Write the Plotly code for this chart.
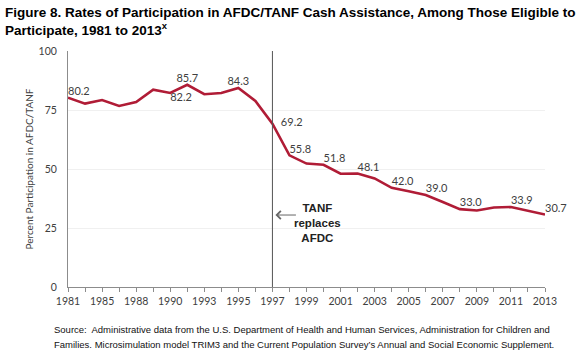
import plotly.graph_objects as go

years = ["1981", "1983", "1985", "1987", "1988", "1989", "1990", "1992", "1993",
         "1994", "1995", "1996", "1997", "1998", "1999", "2000", "2001", "2002",
         "2003", "2004", "2005", "2006", "2007", "2008", "2009", "2010", "2011",
         "2012", "2013"]
rates = [80.2, 77.7, 79.2, 76.7, 78.4, 83.6, 82.2, 85.7, 81.7,
         82.2, 84.3, 78.8, 69.2, 55.8, 52.3, 51.8, 48.0, 48.1,
         46.0, 42.0, 40.6, 39.0, 36.0, 33.0, 32.4, 33.7, 33.9,
         32.3, 30.7]
labeled_years = ["1981", "1990", "1992", "1995", "1997", "1998", "2000", "2002",
                 "2004", "2006", "2008", "2011", "2013"]
y_ticks = [0, 25, 50, 75, 100]
reform_year = "1997"

label_pos = {"1990": "bottom right", "1992": "top center", "1995": "top center",
             "1997": "middle right"}
label_pad = {"1997": "\u00a0\u00a0\u00a0"}

text = [label_pad.get(y, "") + f"{v:.1f}" if y in labeled_years else ""
        for y, v in zip(years, rates)]
tpos = [label_pos.get(y, "top right") for y in years]
tick_text = [y if i % 2 == 0 else "" for i, y in enumerate(years)]
reform_idx = years.index(reform_year)

RED = "#b01c36"
GREY_TXT = "#404040"
AX = "#8c8c8c"

fig = go.Figure()
fig.add_trace(go.Scatter(
    x=years, y=rates, mode="lines+text", text=text, textposition=tpos,
    textfont=dict(family="Lato", size=11, color=GREY_TXT),
    line=dict(color=RED, width=2.6), cliponaxis=False, hoverinfo="skip",
))

fig.add_shape(type="line", xref="x", yref="y", x0=reform_idx, x1=reform_idx, y0=0, y1=100,
              line=dict(color="#555555", width=1))

fig.add_annotation(xref="x", yref="y", x=reform_idx, y=30.5, xshift=3, ax=22, ay=0,
                   text="", showarrow=True, arrowhead=4, arrowsize=1.6,
                   arrowwidth=1, arrowcolor="#666666")
fig.add_annotation(xref="x", yref="y", x=reform_idx, y=27, xshift=45, showarrow=False,
                   text="<b>TANF<br>replaces<br>AFDC</b>", align="center",
                   font=dict(family="Liberation Sans", size=11.5, color="#222222"))

fig.add_annotation(xref="paper", yref="paper", x=-0.1363, y=1.163, xanchor="left",
                   yanchor="middle", showarrow=False, align="left",
                   text="<b>Figure 8. Rates of Participation in AFDC/TANF Cash Assistance, Among Those Eligible to</b>",
                   font=dict(family="Liberation Sans", size=13.5, color="black"))
fig.add_annotation(xref="paper", yref="paper", x=-0.1363, y=1.095, xanchor="left",
                   yanchor="middle", showarrow=False, align="left",
                   text="<b>Participate, 1981 to 2013<sup>x</sup></b>",
                   font=dict(family="Liberation Sans", size=13.5, color="black"))

fig.add_annotation(xref="paper", yref="paper", x=-0.034, y=-0.148, xanchor="left",
                   yanchor="top", showarrow=False, align="left",
                   text="Source:  Administrative data from the U.S. Department of Health and Human Services, Administration for Children and",
                   font=dict(family="Liberation Sans", size=9.5, color="#111111"))
fig.add_annotation(xref="paper", yref="paper", x=-0.034, y=-0.212, xanchor="left",
                   yanchor="top", showarrow=False, align="left",
                   text="Families. Microsimulation model TRIM3 and the Current Population Survey\u2019s Annual and Social Economic Supplement.",
                   font=dict(family="Liberation Sans", size=9.5, color="#111111"))

fig.update_layout(
    width=587, height=356,
    margin=dict(l=68, r=42, t=51, b=69),
    paper_bgcolor="white", plot_bgcolor="white",
    showlegend=False,
    xaxis=dict(
        type="category", range=[0, len(years) - 1],
        tickmode="array", tickvals=years, ticktext=tick_text,
        showline=True, linecolor=AX, linewidth=1,
        ticks="outside", ticklen=4, tickcolor=AX,
        showgrid=False, zeroline=False,
        tickfont=dict(family="Lato", size=10.5, color=GREY_TXT),
    ),
    yaxis=dict(
        range=[0, 100], tickvals=y_ticks,
        showline=True, linecolor=AX, linewidth=1,
        showgrid=True, gridcolor="#f0f0f0", gridwidth=1, zeroline=False,
        ticks="", ticklabelstandoff=8,
        tickfont=dict(family="Lato", size=10.5, color=GREY_TXT),
        title=dict(text="Percent Participation in AFDC/TANF", standoff=3,
                   font=dict(family="Lato", size=10, color=GREY_TXT)),
    ),
)

fig.write_html("out.html", config={"displayModeBar": False},
               post_script="document.body.style.margin='0';document.body.style.overflow='hidden';")
